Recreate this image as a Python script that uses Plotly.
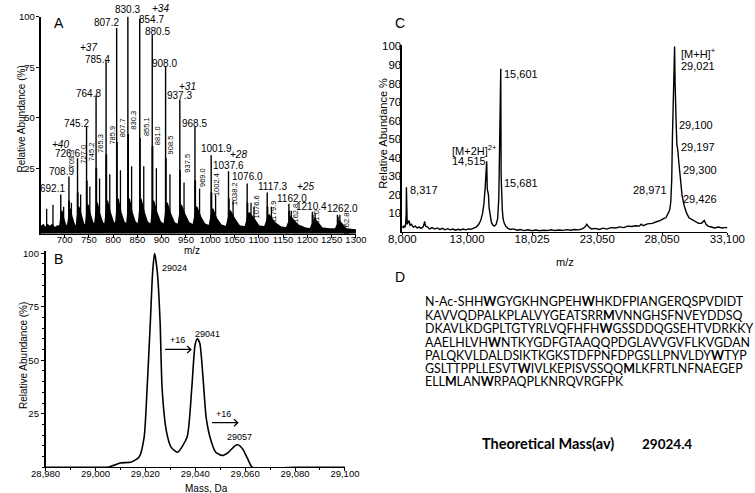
import plotly.graph_objects as go

W, H = 755, 493
FONT = "Liberation Sans, Arial, sans-serif"
DFONT = "Lato, Calibri, sans-serif"


def px(x):
    return x / W


def py(y):
    return 1 - y / H


# ---------------- Panel A data (ESI m/z spectrum) ----------------
a_peak_mz = [692.1, 708.9, 726.6, 745.2, 764.8, 785.4, 807.2, 830.3, 854.7, 880.5,
             908.0, 937.3, 968.5, 1001.9, 1037.6, 1076.0, 1117.3, 1162.0, 1210.4, 1262.0]
a_peak_int = [12, 21, 30, 45.5, 61, 78, 94.5, 100, 99, 91,
              75.5, 59, 45.5, 31.5, 23.5, 17.5, 13, 7.5, 3.5, 2]
a_peak_lab = ["692.1", "708.9", "726.6", "745.2", "764.8", "785.4", "807.2", "830.3", "854.7", "880.5",
              "908.0", "937.3", "968.5", "1001.9", "1037.6", "1076.0", "1117.3", "1162.0", "1210.4", "1262.0"]

a_sec_mz = [709.3, 727.0, 745.7, 765.3, 785.9, 807.7, 830.8, 855.1, 881.0, 908.5,
            937.5, 969.0, 1002.4, 1038.2, 1076.6, 1117.9, 1162.8, 1211.0, 1262.8]
a_sec_int = [9, 13, 19, 25, 32, 38, 42, 40, 36, 30,
             24, 19, 13, 10, 8, 6, 4, 2, 1]
a_sec_lab = ["709.3", "727.0", "745.2", "765.3", "785.9", "807.7", "830.3", "855.1", "881.0", "908.5",
             "937.5", "969.0", "1002.4", "1038.2", "1076.6", "1179.9", "1162.8", "1211.0", "1262.8"]

a_add_mz = [663, 676, 698, 714, 733, 752, 772, 793, 815, 838, 863, 889, 917, 946, 978,
            1011, 1047, 1084, 1090, 1126, 1167, 1216, 1267]
a_add_int = [5, 7, 6, 8, 12, 16, 20, 22, 24, 26, 26, 25, 22, 18, 15,
             12, 9, 8, 6, 6, 4, 3, 2]

a_base_mz = [651, 656, 660, 665, 670, 674, 680, 686, 690, 694, 698, 702, 706, 711, 715, 720,
             724, 729, 734, 739, 743, 748, 753, 758, 762, 767, 772, 778, 783, 788, 794, 800,
             805, 810, 816, 822, 828, 833, 839, 845, 852, 857, 864, 870, 878, 883, 890, 897,
             905, 911, 918, 926, 934, 940, 948, 956, 965, 972, 980, 988, 998, 1005, 1013, 1022,
             1033, 1041, 1050, 1060, 1072, 1080, 1090, 1100, 1112, 1121, 1133, 1145, 1157, 1166,
             1180, 1195, 1206, 1215, 1230, 1245, 1258, 1266, 1280, 1300]
a_base_int = [-4, -3, -4.5, -3, -4, -3, -4.5, -3.5, -4, 4, 0, -3, -4, 5, 1, -3,
              -4, 6, 2, -2.5, -3.5, 7, 2, -2, -3, 8, 2.5, -2, -3, 9, 3, -1.5,
              -3, 10, 3, -1.5, -3, 10, 3, -1.5, -3, 10, 3, -1.5, -3, 9, 3, -1.5,
              -3, 8, 2.5, -2, -3, 7, 2, -2, -3, 6, 1, -2.5, -3.5, 5, 0, -3,
              -4, 4, 0, -3.5, -4, 3, 0, -3.5, -4, 2, -2, -4, -4.5, 1,
              -3, -4.5, -5, 0, -4.5, -5, -5, -1, -5, -5.5]
a_charge_lab = ["+40", "+37", "+34", "+31", "+28", "+25"]
a_xticks = [700, 750, 800, 850, 900, 950, 1000, 1050, 1100, 1150, 1200, 1250, 1300]
a_yticks = [25, 50, 75, 100]

# ---------------- Panel B data (deconvoluted mass) ----------------
b_mass = [28980, 29000, 29004.8, 29007.5, 29009.9, 29014.4, 29017.5, 29019.5, 29020.7, 29022.0,
          29022.9, 29023.7, 29024.8, 29025.9, 29026.7, 29028.4, 29030.3, 29032.9, 29036.7,
          29038.6, 29039.9, 29040.8, 29041.8, 29043.1, 29044.4, 29046.3, 29048.2, 29050.8,
          29053.3, 29055.9, 29057.1, 29059.0, 29061.0, 29062.9, 29080, 29100]
b_abund = [0, 0, 0, 1, 2, 2.5, 4.8, 14, 37, 68,
           91, 100, 91, 68, 37, 17, 9.4, 7, 14,
           37, 57, 60, 58, 42, 23, 12.5, 7, 5.5,
           7, 10, 10.5, 8.5, 4, 0, 0, 0]
b_xticks = [28980, 29000, 29020, 29040, 29060, 29080, 29100]
b_yticks = [25, 50, 75, 100]

# ---------------- Panel C data (MALDI spectrum) ----------------
c_mz = [8000, 8060, 8120, 8200, 8260, 8300, 8317, 8340, 8380, 8450, 8520, 8600, 8700, 8850,
        9000, 9150, 9300, 9450, 9600, 9680, 9720, 9800, 9950, 10100, 10300, 10500, 10700,
        10900, 11100, 11300, 11500, 11700, 11900, 12100, 12300, 12500, 12700, 12900, 13100,
        13300, 13500, 13700, 13900, 14050, 14200, 14300, 14400, 14470, 14515, 14560, 14600,
        14650, 14700, 14780, 14880, 15000, 15120, 15250, 15360, 15450, 15520, 15570, 15601,
        15630, 15660, 15681, 15720, 15780, 15870, 15990, 16150, 16350, 16600, 16850, 17100,
        17400, 17700, 18000, 18300, 18600, 18900, 19200, 19500, 19800, 20100, 20400, 20700,
        21000, 21300, 21600, 21900, 22100, 22240, 22400, 22600, 22900, 23200, 23500, 23800,
        24100, 24470, 24800, 25100, 25400, 25700, 26000, 26300, 26450, 26600, 26930, 27300,
        27670, 27900, 28160, 28350, 28530, 28650, 28725, 28800, 28850, 28920, 28971, 29000,
        29021, 29060, 29100, 29144, 29197, 29267, 29340, 29440, 29590, 29760, 29950, 30130,
        30500, 30870, 31100, 31200, 31310, 31450, 31600, 31850, 32100, 32400, 32700, 33000,
        33100]
c_int = [3, 2, 3, 2.5, 4, 10, 24, 8, 4, 5, 6, 3.5, 4, 2.5,
         3, 2, 2.5, 1.8, 2.5, 4, 5.5, 3, 2.5, 1.5, 2.2, 1.4, 2,
         1.2, 1.8, 1, 1.6, 1, 1.4, 0.8, 1.3, 0.9, 1.4, 1, 1.5,
         1.3, 2, 2.5, 4, 6, 10, 15, 24, 34, 38, 23, 21,
         20, 13, 8, 5, 3.5, 3, 4, 7, 18, 45, 75, 88,
         30, 21, 19, 12, 7, 4.5, 3, 1.8, 1.2, 1.5, 0.8, 1.2,
         0.6, 1, 0.5, 0.9, 0.5, 0.8, 0.6, 1, 0.6, 0.9, 0.7, 1.1,
         0.8, 1.2, 1, 1.5, 2.5, 4, 2.5, 1.5, 1.8, 1.2, 1.9, 1.4,
         2.2, 2, 2.6, 2.2, 3, 2.8, 3.2, 3, 4, 3.2, 4.2, 4.5,
         5.5, 6, 7, 7.5, 10, 12, 16, 28, 50, 75, 88, 95,
         100, 80, 62, 58, 47, 44, 38, 30, 20, 14, 10, 7.5,
         6, 4.5, 4.5, 5.5, 6, 4, 3, 2.5, 2, 2.5, 2, 2.3,
         2]
assert len(c_mz) == len(c_int), (len(c_mz), len(c_int))
assert len(a_base_mz) == len(a_base_int), (len(a_base_mz), len(a_base_int))
assert len(b_mass) == len(b_abund)
c_xticks = [8000, 13000, 18025, 23050, 28050, 33100]
c_yticks = [10, 20, 30, 40, 50, 60, 70, 80, 90, 100]

# ---------------- Panel D text ----------------
d_lines = [
    "N-Ac-SHH<b>W</b>GYGKHNGPEH<b>W</b>HKDFPIANGERQSPVDIDT",
    "KAVVQDPALKPLALVYGEATSRR<b>M</b>VNNGHSFNVEYDDSQ",
    "DKAVLKDGPLTGTYRLVQFHFH<b>W</b>GSSDDQGSEHTVDRKKY",
    "AAELHLVH<b>W</b>NTKYGDFGTAAQQPDGLAVVGVFLKVGDAN",
    "PALQKVLDALDSIKTKGKSTDFPNFDPGSLLPNVLDY<b>W</b>TYP",
    "GSLTTPPLLESVT<b>W</b>IVLKEPISVSSQQ<b>M</b>LKFRTLNFNAEGEP",
    "ELL<b>M</b>LAN<b>W</b>RPAQPLKNRQVRGFPK",
]
d_mass_label = "Theoretical Mass(av)"
d_mass_value = "29024.4"

fig = go.Figure()

# ---- Panel A traces ----
A_FLOOR = -7.35
fig.add_trace(go.Scatter(x=a_base_mz, y=[A_FLOOR] * len(a_base_mz), mode="lines",
                         line=dict(width=0, color="black"), xaxis="x", yaxis="y",
                         hoverinfo="skip", showlegend=False))
fig.add_trace(go.Scatter(x=a_base_mz, y=a_base_int, mode="lines", fill="tonexty",
                         fillcolor="black", line=dict(width=1.5, color="black"),
                         xaxis="x", yaxis="y", showlegend=False))


def sticks(mzs, ints, base):
    xs, ys = [], []
    for m, v in zip(mzs, ints):
        xs += [m, m, None]
        ys += [base, v, None]
    return xs, ys


for mzs, ints, w in [(a_add_mz, a_add_int, 1.3), (a_sec_mz, a_sec_int, 1.8), (a_peak_mz, a_peak_int, 1.4)]:
    sx, sy = sticks(mzs, ints, -4)
    fig.add_trace(go.Scatter(x=sx, y=sy, mode="lines", line=dict(width=w, color="black"),
                             xaxis="x", yaxis="y", showlegend=False))

# ---- Panel B trace ----
fig.add_trace(go.Scatter(x=b_mass, y=b_abund, mode="lines", line=dict(width=1.6, color="black", shape="spline", smoothing=0.6),
                         xaxis="x2", yaxis="y2", showlegend=False))

# ---- Panel C trace ----
fig.add_trace(go.Scatter(x=c_mz, y=c_int, mode="lines", line=dict(width=1.4, color="black"),
                         xaxis="x3", yaxis="y3", showlegend=False))

axis_common = dict(showgrid=False, zeroline=False, showline=True, linecolor="black",
                   ticks="outside", tickcolor="black", color="black")

fig.update_layout(
    width=W, height=H, autosize=False,
    margin=dict(l=0, r=0, t=0, b=0),
    paper_bgcolor="white", plot_bgcolor="white",
    font=dict(family=FONT, color="black"),
    xaxis=dict(axis_common, domain=[px(27), px(357)], range=[651, 1301], anchor="y",
               tickvals=a_xticks, ticklen=3, linewidth=1.2, tickfont=dict(size=9.5),
               ticklabelstandoff=-6),
    yaxis=dict(axis_common, domain=[py(231), py(11.7)], range=[A_FLOOR, 100.1], anchor="x",
               tickvals=a_yticks, ticklen=3, linewidth=2, tickfont=dict(size=9.5),
               ticklabelstandoff=-1),
    xaxis2=dict(axis_common, domain=[px(32), px(345)], range=[28980, 29100], anchor="y2",
                tickvals=b_xticks, tickformat=",d", ticklen=3, linewidth=1.2, tickfont=dict(size=9.5),
                ticklabelstandoff=-6,
                minor=dict(dtick=10, ticklen=2, ticks="outside", tickcolor="black")),
    yaxis2=dict(axis_common, domain=[py(467), py(249)], range=[0, 100.8], anchor="x2",
                tickvals=b_yticks, ticklen=3, linewidth=1.5, tickfont=dict(size=9.5),
                minor=dict(dtick=5, ticklen=2, ticks="outside", tickcolor="black")),
    xaxis3=dict(axis_common, domain=[px(405), px(745)], range=[8000, 33100], anchor="y3",
                tickvals=c_xticks, tickformat=",d", ticklen=2, linewidth=1.3, tickfont=dict(size=11.5),
                ticklabelstandoff=-6),
    yaxis3=dict(axis_common, domain=[py(229), py(40)], range=[0, 101], anchor="x3",
                tickvals=c_yticks, ticklen=2, linewidth=1.5, tickfont=dict(size=11.5),
                ticklabelstandoff=-5),
)

anns = []


def ann(text, x, y, size, xanchor="center", yanchor="middle", **kw):
    d = dict(text=text, x=px(x), y=py(y), xref="paper", yref="paper", showarrow=False,
             font=dict(size=size, family=kw.pop("family", FONT), color="black"),
             xanchor=xanchor, yanchor=yanchor, borderpad=0)
    d.update(kw)
    return d


# Panel letters
anns += [ann("A", 46, 18, 14), ann("B", 46, 257, 14), ann("C", 403, 18, 14), ann("D", 403, 275, 14)]

# Panel A titles
anns.append(ann("Relative Abundance (%)", 7, 115, 10, textangle=-90))
anns.append(ann("m/z", 185, 248.5, 10))

# Panel A main peak labels (offsets in px)
a_lab_dx = [-8, -7, -10, -10, -8, -9, -10, 0, 12, 5, -1, 0, 0, 5, 0, 0, 6, 3, -1, 5]
a_lab_dy = [6.5, 5, 5, 3, 2, 2, 5, 7, -1, 3.5, 3, 4.6, 3, 6.7, 6, 7, 6.5, 4.7, 5, 6]
for m, v, t, dx, dy in zip(a_peak_mz, a_peak_int, a_peak_lab, a_lab_dx, a_lab_dy):
    anns.append(dict(text=t, x=m, y=v, xref="x", yref="y", showarrow=False, xanchor="center",
                     yanchor="middle", xshift=dx, yshift=dy, font=dict(size=10, family=FONT, color="black")))

# Panel A rotated secondary labels
a_rot_dx = [2, 5.5, 5, 4, 6.6, 5.5, 5.7, 6.4, 5, 5, 7.4, 6.6, 4.5, 5.4, 9, 6.7, 7, 4, 9]
a_rot_y = [156, 151, 148, 140, 131, 124, 116, 123, 132, 141, 160, 174, 181, 191, 204, 209, 212, 219, 221]
for m, t, dx, yy in zip(a_sec_mz, a_sec_lab, a_rot_dx, a_rot_y):
    anns.append(dict(text=t, x=m, y=py(yy), xref="x", yref="paper", showarrow=False, xanchor="center",
                     yanchor="middle", xshift=dx, textangle=-90, font=dict(size=7.5, family=FONT, color="black")))

# Charge state labels
a_charge_pos = [(48, 141), (77, 43), (152, 4), (180, 82), (234, 151), (304, 183)]
for t, (cx, cy) in zip(a_charge_lab, a_charge_pos):
    anns.append(ann("<i>" + t + "</i>", cx, cy, 10))

# Panel B labels
anns.append(ann("Relative Abundance (%)", 9, 354, 10, textangle=-90))
anns.append(ann("Mass, Da", 200, 488, 10))
anns.append(ann("29024", 153, 266, 9, xanchor="left"))
anns.append(ann("29041", 187, 332, 9, xanchor="left"))
anns.append(ann("29057", 235, 436, 9))
anns.append(ann("+16", 170, 338, 9))
anns.append(ann("+16", 218.5, 413, 9))

# Panel C labels
anns.append(ann("Relative Abundance %", 385, 130, 11, textangle=-90))
anns.append(ann("m/z", 575, 260, 11))
c_labels = [("[M+H]<sup>+</sup>", 695, 48, "left"), ("29,021", 695, 62, "left"),
            ("15,601", 510, 70, "left"), ("[M+2H]<sup>2+</sup>", 456, 146, "left"),
            ("14,515", 456, 158, "left"), ("8,317", 412, 187, "left"),
            ("15,681", 510, 180, "left"), ("29,100", 693, 121, "left"),
            ("29,197", 695, 143, "left"), ("29,300", 697, 167, "left"),
            ("28,971", 683, 187, "right"), ("29,426", 698, 196, "left")]
for t, cx, cy, xa in c_labels:
    anns.append(ann(t, cx, cy, 11, xanchor=xa))

# Panel D text
d_line_y = [300, 313.5, 327, 340.5, 354, 367, 380.5]
for t, yy in zip(d_lines, d_line_y):
    anns.append(ann(t, 428, yy, 12.4, xanchor="left", family=DFONT))
anns.append(ann("<b>" + d_mass_label + "</b>", 557, 443, 14.5, family=DFONT))
anns.append(ann("<b>" + d_mass_value + "</b>", 682, 443, 13.5, family=DFONT))

fig.update_layout(annotations=anns)

# Arrows in panel B
def arrow_path(x1, x2, y):
    return (f"M{px(x1)},{py(y)} L{px(x2)},{py(y)} "
            f"M{px(x2 - 4)},{py(y - 3.5)} L{px(x2)},{py(y)} L{px(x2 - 4)},{py(y + 3.5)}")

fig.update_layout(shapes=[
    dict(type="path", xref="paper", yref="paper", path=arrow_path(157, 184, 348),
         line=dict(color="black", width=1.2)),
    dict(type="path", xref="paper", yref="paper", path=arrow_path(206, 233, 422),
         line=dict(color="black", width=1.2)),
])

fig.write_html("out.html", config={"displayModeBar": False},
               post_script="document.body.style.margin='0';document.body.style.overflow='hidden';")
